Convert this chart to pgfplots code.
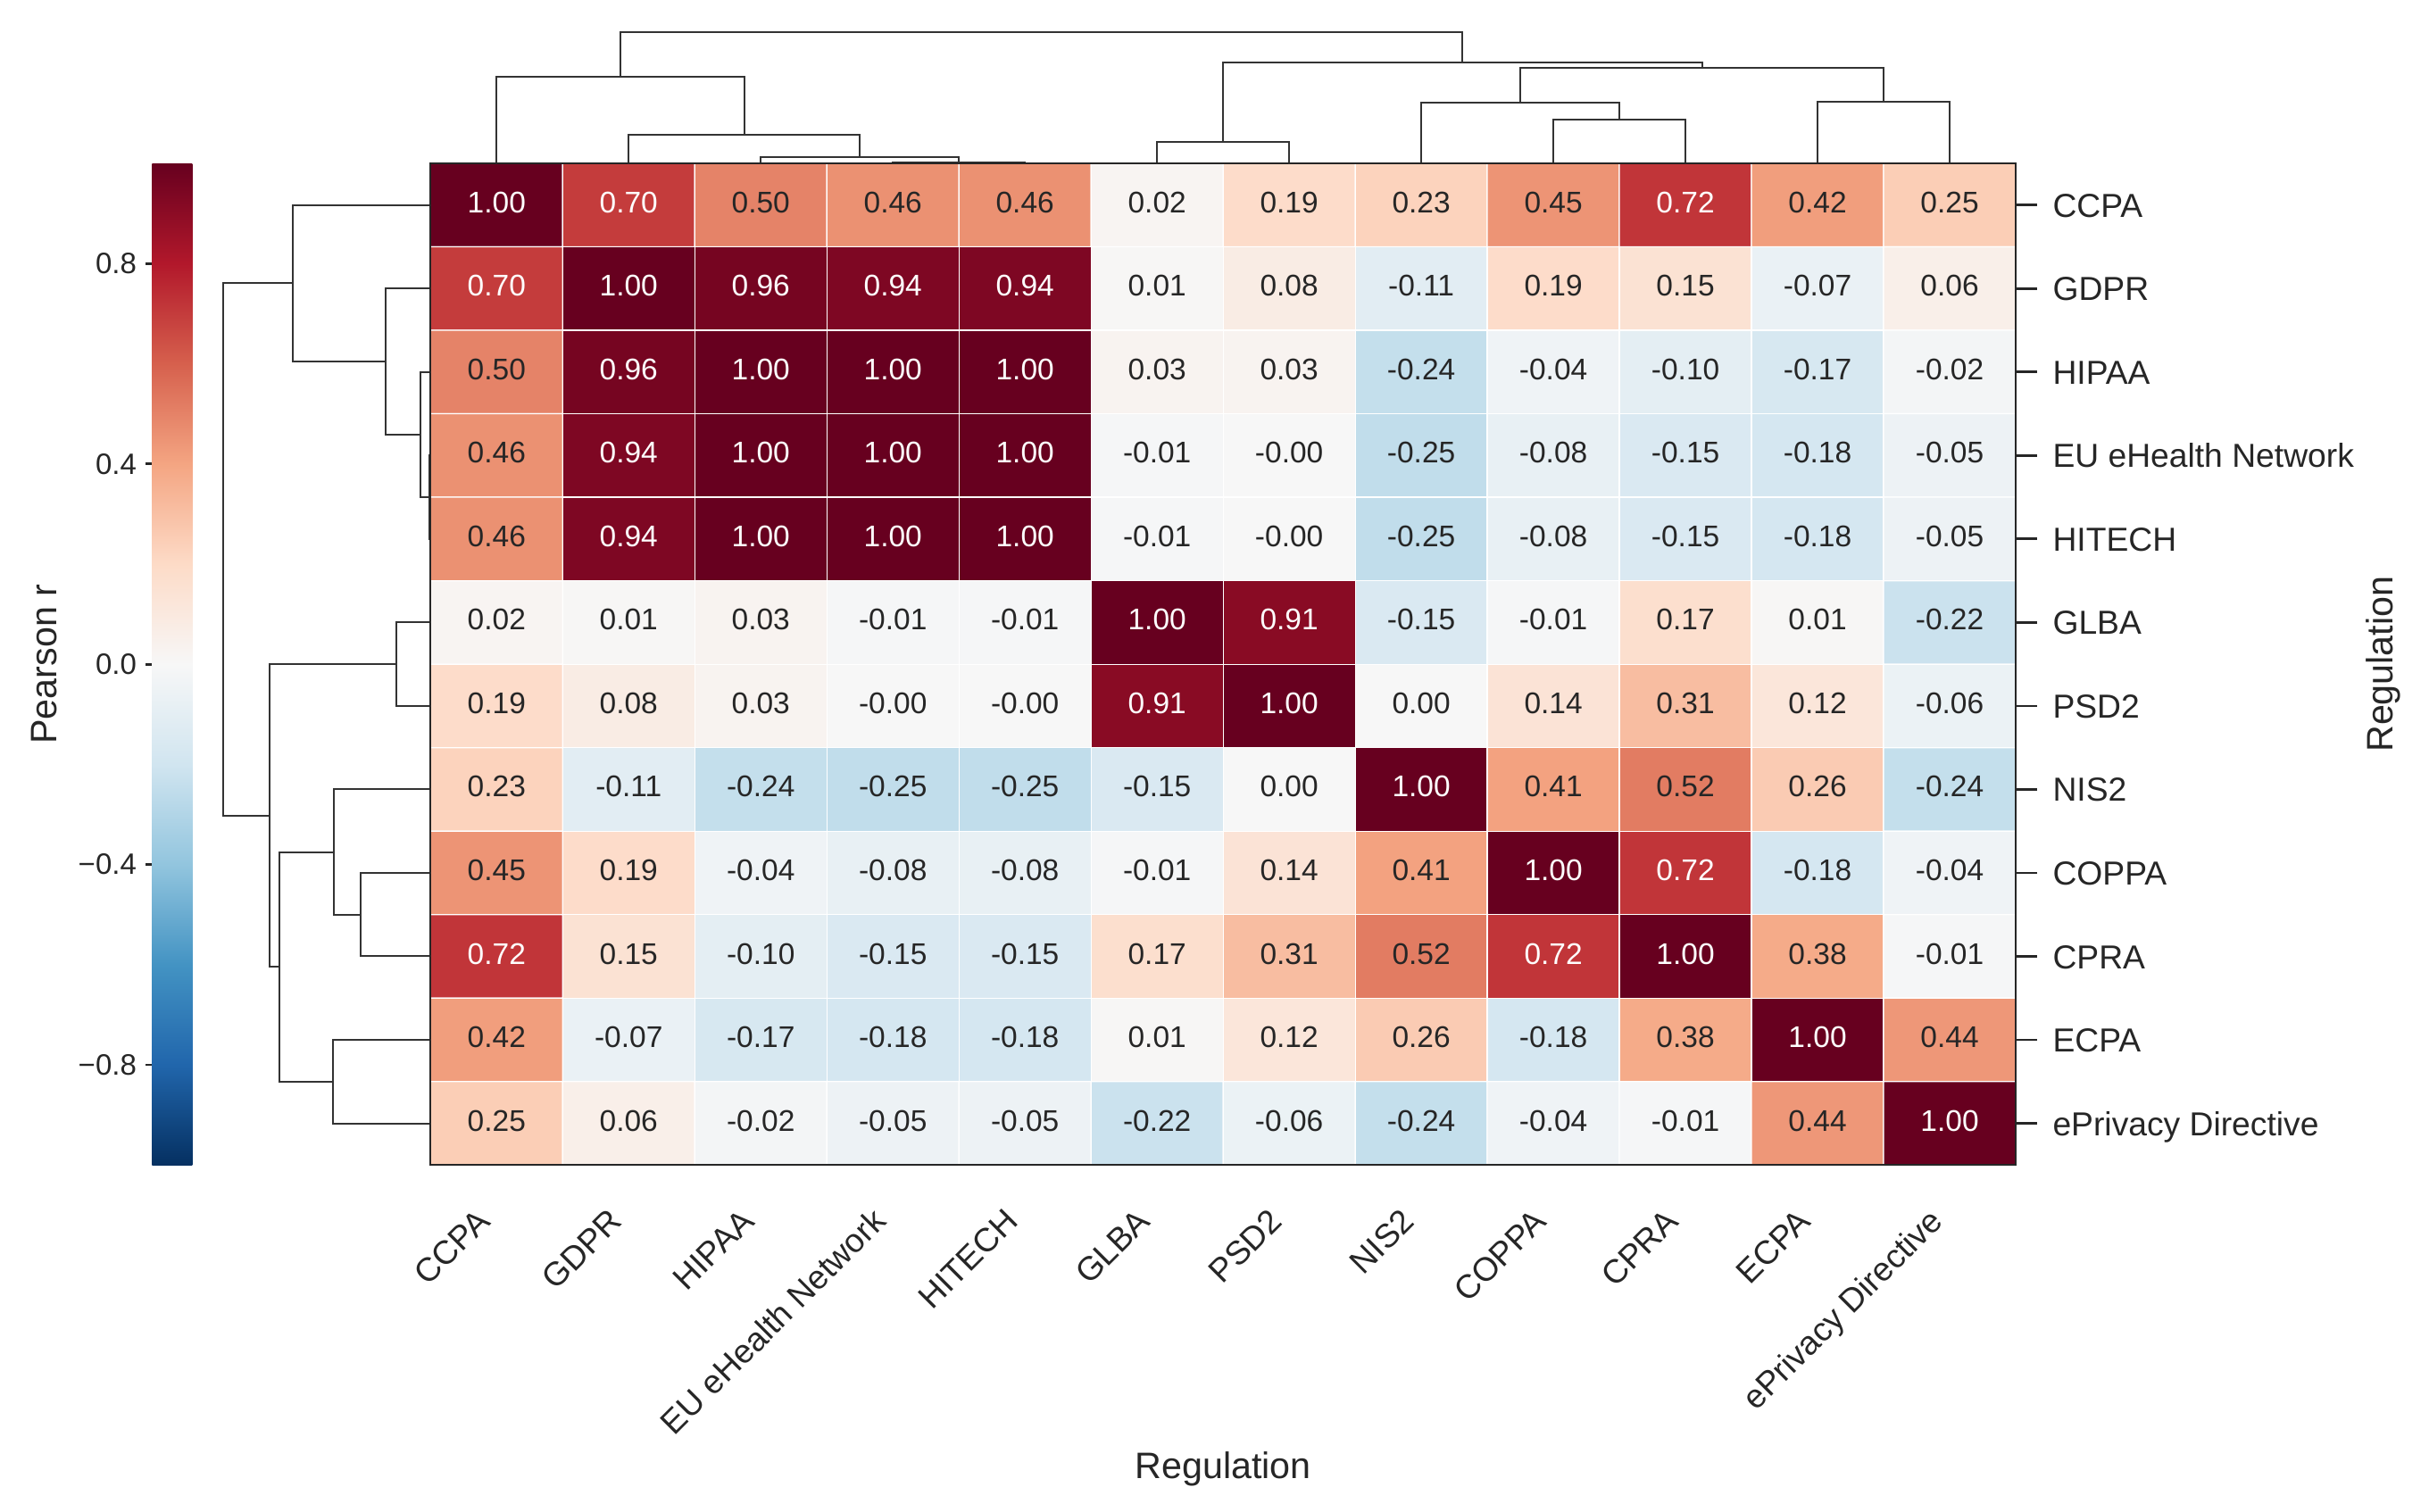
\documentclass[border=0pt]{standalone}
\usepackage{fontspec}
\setmainfont{Liberation Sans}
\usepackage{pgfplots}
\usepackage{pgfplotstable}
\pgfplotsset{compat=1.18}

\definecolor{ink}{HTML}{262626}
\definecolor{treecol}{HTML}{333333}

\newcommand\annfont{\fontsize{13.4}{16}\selectfont}
\newcommand\tickfont{\fontsize{14.9}{18}\selectfont}
\newcommand\cbfont{\fontsize{13.2}{16}\selectfont}
\newcommand\labfont{\fontsize{16.5}{20}\selectfont}

% RdBu reversed
\pgfplotsset{colormap={rdbu}{rgb255=(5,48,97) rgb255=(33,102,172) rgb255=(67,147,195)
  rgb255=(146,197,222) rgb255=(209,229,240) rgb255=(247,247,247) rgb255=(253,219,199)
  rgb255=(244,165,130) rgb255=(214,96,77) rgb255=(178,24,43) rgb255=(103,0,31)}}

% c = column, r = row (clustered order), v = Pearson r
\pgfplotstableread[row sep=\\]{
c r v\\
0 0 1.00\\ 1 0 0.70\\ 2 0 0.50\\ 3 0 0.46\\ 4 0 0.46\\ 5 0 0.02\\ 6 0 0.19\\ 7 0 0.23\\ 8 0 0.45\\ 9 0 0.72\\ 10 0 0.42\\ 11 0 0.25\\
0 1 0.70\\ 1 1 1.00\\ 2 1 0.96\\ 3 1 0.94\\ 4 1 0.94\\ 5 1 0.01\\ 6 1 0.08\\ 7 1 -0.11\\ 8 1 0.19\\ 9 1 0.15\\ 10 1 -0.07\\ 11 1 0.06\\
0 2 0.50\\ 1 2 0.96\\ 2 2 1.00\\ 3 2 1.00\\ 4 2 1.00\\ 5 2 0.03\\ 6 2 0.03\\ 7 2 -0.24\\ 8 2 -0.04\\ 9 2 -0.10\\ 10 2 -0.17\\ 11 2 -0.02\\
0 3 0.46\\ 1 3 0.94\\ 2 3 1.00\\ 3 3 1.00\\ 4 3 1.00\\ 5 3 -0.01\\ 6 3 -0.00\\ 7 3 -0.25\\ 8 3 -0.08\\ 9 3 -0.15\\ 10 3 -0.18\\ 11 3 -0.05\\
0 4 0.46\\ 1 4 0.94\\ 2 4 1.00\\ 3 4 1.00\\ 4 4 1.00\\ 5 4 -0.01\\ 6 4 -0.00\\ 7 4 -0.25\\ 8 4 -0.08\\ 9 4 -0.15\\ 10 4 -0.18\\ 11 4 -0.05\\
0 5 0.02\\ 1 5 0.01\\ 2 5 0.03\\ 3 5 -0.01\\ 4 5 -0.01\\ 5 5 1.00\\ 6 5 0.91\\ 7 5 -0.15\\ 8 5 -0.01\\ 9 5 0.17\\ 10 5 0.01\\ 11 5 -0.22\\
0 6 0.19\\ 1 6 0.08\\ 2 6 0.03\\ 3 6 -0.00\\ 4 6 -0.00\\ 5 6 0.91\\ 6 6 1.00\\ 7 6 0.00\\ 8 6 0.14\\ 9 6 0.31\\ 10 6 0.12\\ 11 6 -0.06\\
0 7 0.23\\ 1 7 -0.11\\ 2 7 -0.24\\ 3 7 -0.25\\ 4 7 -0.25\\ 5 7 -0.15\\ 6 7 0.00\\ 7 7 1.00\\ 8 7 0.41\\ 9 7 0.52\\ 10 7 0.26\\ 11 7 -0.24\\
0 8 0.45\\ 1 8 0.19\\ 2 8 -0.04\\ 3 8 -0.08\\ 4 8 -0.08\\ 5 8 -0.01\\ 6 8 0.14\\ 7 8 0.41\\ 8 8 1.00\\ 9 8 0.72\\ 10 8 -0.18\\ 11 8 -0.04\\
0 9 0.72\\ 1 9 0.15\\ 2 9 -0.10\\ 3 9 -0.15\\ 4 9 -0.15\\ 5 9 0.17\\ 6 9 0.31\\ 7 9 0.52\\ 8 9 0.72\\ 9 9 1.00\\ 10 9 0.38\\ 11 9 -0.01\\
0 10 0.42\\ 1 10 -0.07\\ 2 10 -0.17\\ 3 10 -0.18\\ 4 10 -0.18\\ 5 10 0.01\\ 6 10 0.12\\ 7 10 0.26\\ 8 10 -0.18\\ 9 10 0.38\\ 10 10 1.00\\ 11 10 0.44\\
0 11 0.25\\ 1 11 0.06\\ 2 11 -0.02\\ 3 11 -0.05\\ 4 11 -0.05\\ 5 11 -0.22\\ 6 11 -0.06\\ 7 11 -0.24\\ 8 11 -0.04\\ 9 11 -0.01\\ 10 11 0.44\\ 11 11 1.00\\
}\corr

% dendrogram links: leaf position, merge height (same tree for rows and columns)
\pgfplotstableread{
pos h
3 0
3 1.0
4 1.0
4 0
nan nan
2 0
2 7.2
3.5 7.2
3.5 1.0
nan nan
1 0
1 31.5
2.75 31.5
2.75 7.2
nan nan
0 0
0 97
1.875 97
1.875 31.5
nan nan
5 0
5 24.3
6 24.3
6 0
nan nan
8 0
8 49.3
9 49.3
9 0
nan nan
7 0
7 67.8
8.5 67.8
8.5 49.3
nan nan
10 0
10 68.4
11 68.4
11 0
nan nan
7.75 67.8
7.75 106.4
10.5 106.4
10.5 68.4
nan nan
5.5 24.3
5.5 113.2
9.125 113.2
9.125 106.4
nan nan
0.9375 97
0.9375 146.2
7.3125 146.2
7.3125 113.2
}\dendro

\begin{document}
\begin{tikzpicture}
\path[use as bounding box] (0,0) rectangle (1088.4pt,677.2pt);

% row dendrogram
\begin{axis}[
    at={(95.32pt,155.08pt)}, anchor=south west,
    scale only axis, width=97.6pt, height=448.92pt,
    xmin=0, xmax=153.3, ymin=-0.5, ymax=11.5,
    x dir=reverse, y dir=reverse,
    hide axis, clip=false,
]
\addplot[treecol, line width=0.8pt, unbounded coords=jump] table[x=h, y=pos] \dendro;
\end{axis}

% column dendrogram
\begin{axis}[
    at={(192.92pt,604pt)}, anchor=south west,
    scale only axis, width=710.28pt, height=61.44pt,
    xmin=-0.5, xmax=11.5, ymin=0, ymax=153.3,
    hide axis, clip=false,
]
\addplot[treecol, line width=0.8pt, unbounded coords=jump] table[x=pos, y=h] \dendro;
\end{axis}

% heatmap
\begin{axis}[
    at={(192.92pt,155.08pt)}, anchor=south west,
    scale only axis, width=710.28pt, height=448.92pt,
    xmin=-0.5, xmax=11.5, ymin=-0.5, ymax=11.5, y dir=reverse,
    colormap name=rdbu, point meta min=-1, point meta max=1,
    axis on top,
    axis line style={ink, line width=0.8pt},
    tick align=outside, major tick length=9.6pt,
    tick style={ink, line width=1.1pt},
    xtick style={draw=none},
    xtick={0,...,11}, ytick={0,...,11},
    xtick pos=bottom, ytick pos=right, yticklabel pos=right,
    xticklabels={CCPA,GDPR,HIPAA,EU eHealth Network,HITECH,GLBA,PSD2,NIS2,COPPA,CPRA,ECPA,ePrivacy Directive},
    yticklabels={CCPA,GDPR,HIPAA,EU eHealth Network,HITECH,GLBA,PSD2,NIS2,COPPA,CPRA,ECPA,ePrivacy Directive},
    xticklabel style={font=\tickfont, text=ink, inner sep=0pt, text height=13.5pt, text depth=3.2pt,
        xshift=-11.8pt, yshift=-6.7pt, rotate=45, anchor=north east},
    yticklabel style={font=\tickfont, text=ink, inner sep=0pt, anchor=base west, xshift=6.8pt, yshift=-5.4pt},
    xlabel={Regulation}, ylabel={Regulation},
    every axis x label/.style={at={(axis description cs:0.5,0)}, anchor=base, yshift=-140.3pt, font=\labfont, text=ink},
    every axis y label/.style={at={(axis description cs:1,0.5)}, xshift=164.8pt, rotate=90, anchor=center, font=\labfont, text=ink},
    colorbar, colorbar/width=18pt,
    colorbar style={
        at={(parent axis.south west)}, anchor=south east, xshift=-115.3pt,
        scale only axis, width=18pt, height=448.92pt,
        y dir=normal,
        ytick={-0.8,-0.4,0,0.4,0.8}, yticklabels={−0.8,−0.4,0.0,0.4,0.8},
        ytick pos=left, yticklabel pos=left,
        tick align=outside, major tick length=2.8pt,
        tick style={ink, line width=1.1pt},
        yticklabel style={font=\cbfont, text=ink, anchor=east, inner sep=0pt, xshift=-4pt},
        axis line style={draw=none},
        ylabel={Pearson r},
        every axis y label/.style={at={(axis description cs:0,0.5)}, xshift=-48.5pt, rotate=90, anchor=center, font=\labfont, text=ink},
    },
]
\addplot[matrix plot*, mesh/cols=12, point meta=explicit, draw=white, line width=0.5pt]
    table[x=c, y=r, meta=v] \corr;
% annotations: white text on dark cells, dark text elsewhere
\addplot[draw=none, mark=none, point meta=explicit symbolic,
    restrict expr to domain={\thisrow{v}}{0.6:1.5},
    nodes near coords={\pgfplotspointmeta},
    every node near coord/.append style={anchor=center, font=\annfont, text=white, inner sep=0pt, yshift=1.2pt},
] table[x=c, y=r, meta=v] \corr;
\addplot[draw=none, mark=none, point meta=explicit symbolic,
    restrict expr to domain={\thisrow{v}}{-1.5:0.6},
    nodes near coords={\pgfplotspointmeta},
    every node near coord/.append style={anchor=center, font=\annfont, text=ink, inner sep=0pt, yshift=1.2pt},
] table[x=c, y=r, meta=v] \corr;
\end{axis}
\end{tikzpicture}
\end{document}
